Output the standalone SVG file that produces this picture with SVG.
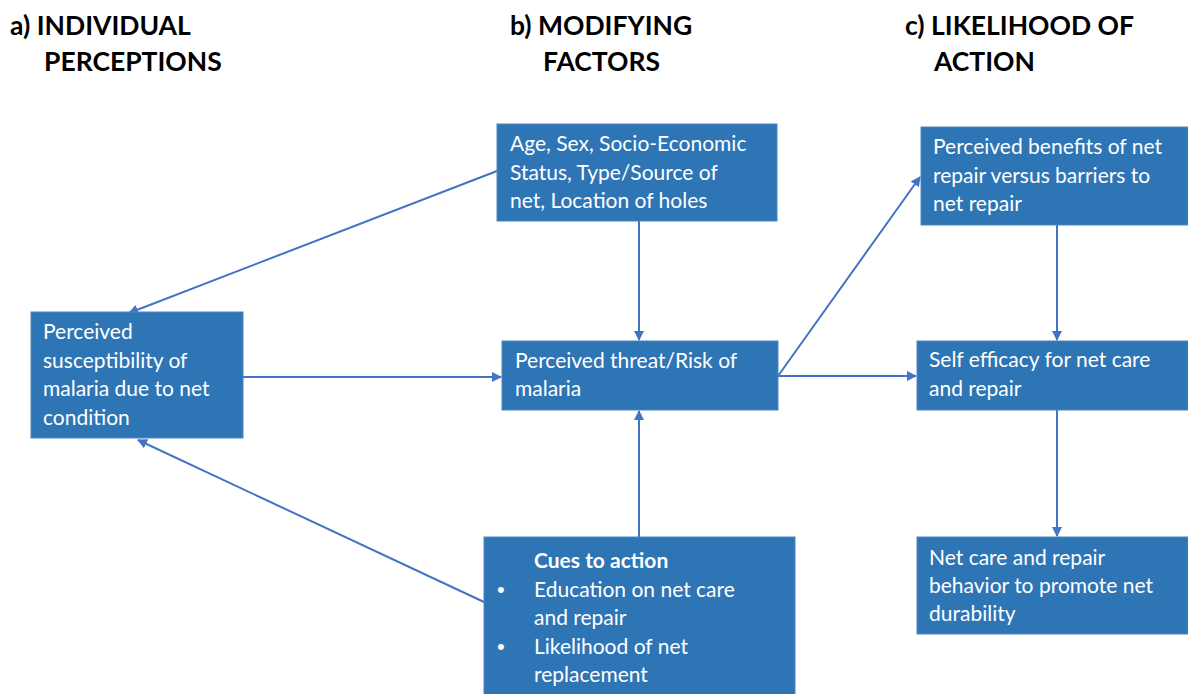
<svg xmlns="http://www.w3.org/2000/svg" width="1188" height="694" viewBox="0 0 1188 694">
<style>
.hdr{font-family:Lato,"Open Sans","Liberation Sans",sans-serif;font-weight:bold;font-size:26.5px;fill:#000}
.box{fill:#2E75B6;stroke:#4F86C0;stroke-width:1}
.t{font-family:Lato,"Open Sans","Liberation Sans",sans-serif;font-size:21px;fill:#fff}
.b{font-weight:bold}
.bul{font-family:"Liberation Sans",sans-serif;font-size:22px;fill:#fff}
.con line{stroke:#4472C4;stroke-width:2;fill:none;marker-end:url(#ah)}
</style>
<defs>
<marker id="ah" viewBox="0 0 10 10" refX="9" refY="5" markerWidth="5" markerHeight="5" orient="auto" markerUnits="strokeWidth">
<path d="M0,0 L10,5 L0,10 z" fill="#4472C4"/>
</marker>
</defs>
<rect width="1188" height="694" fill="#fff"/>
<g id="headers">
<text class="hdr" x="10" y="35">a) INDIVIDUAL</text>
<text class="hdr" x="44" y="71">PERCEPTIONS</text>
<text class="hdr" x="510" y="35">b) MODIFYING</text>
<text class="hdr" x="543" y="71">FACTORS</text>
<text class="hdr" x="905" y="35">c) LIKELIHOOD OF</text>
<text class="hdr" x="934" y="71">ACTION</text>
</g>
<g class="con" id="connectors">
<line x1="497" y1="171" x2="129" y2="313"/>
<line x1="639" y1="221" x2="639" y2="340"/>
<line x1="243" y1="377" x2="501" y2="377"/>
<line x1="639" y1="537" x2="639" y2="411"/>
<line x1="484" y1="602" x2="138" y2="440"/>
<line x1="778" y1="376" x2="920" y2="177"/>
<line x1="778" y1="376" x2="916" y2="376"/>
<line x1="1057" y1="225" x2="1057" y2="340"/>
<line x1="1057" y1="410" x2="1057" y2="536"/>
</g>
<g id="node-modifying">
<rect class="box" x="497" y="124" width="280" height="97"/>
<text class="t" x="510" y="151">Age, Sex, Socio-Economic</text>
<text class="t" x="510" y="180">Status, Type/Source of</text>
<text class="t" x="510" y="208">net, Location of holes</text>
</g>
<g id="node-susceptibility">
<rect class="box" x="31" y="312" width="212" height="126"/>
<text class="t" x="43" y="339">Perceived</text>
<text class="t" x="43" y="368">susceptibility of</text>
<text class="t" x="43" y="396">malaria due to net</text>
<text class="t" x="43" y="425">condition</text>
</g>
<g id="node-threat">
<rect class="box" x="502" y="341" width="276" height="69"/>
<text class="t" x="515" y="368">Perceived threat/Risk of</text>
<text class="t" x="515" y="396">malaria</text>
</g>
<g id="node-cues">
<rect class="box" x="484" y="537" width="311" height="160"/>
<text class="t b" x="534" y="568">Cues to action</text>
<text class="bul" x="497" y="597">•</text>
<text class="t" x="534" y="597">Education on net care</text>
<text class="t" x="534" y="625">and repair</text>
<text class="bul" x="497" y="654">•</text>
<text class="t" x="534" y="654">Likelihood of net</text>
<text class="t" x="534" y="682">replacement</text>
</g>
<g id="node-benefits">
<rect class="box" x="921" y="127" width="267" height="98"/>
<text class="t" x="933" y="154">Perceived benefits of net</text>
<text class="t" x="933" y="183">repair versus barriers to</text>
<text class="t" x="933" y="211">net repair</text>
</g>
<g id="node-efficacy">
<rect class="box" x="917" y="341" width="271" height="69"/>
<text class="t" x="929" y="367">Self efficacy for net care</text>
<text class="t" x="929" y="396">and repair</text>
</g>
<g id="node-behavior">
<rect class="box" x="917" y="537" width="271" height="97"/>
<text class="t" x="929" y="565">Net care and repair</text>
<text class="t" x="929" y="593">behavior to promote net</text>
<text class="t" x="929" y="621">durability</text>
</g>
</svg>
